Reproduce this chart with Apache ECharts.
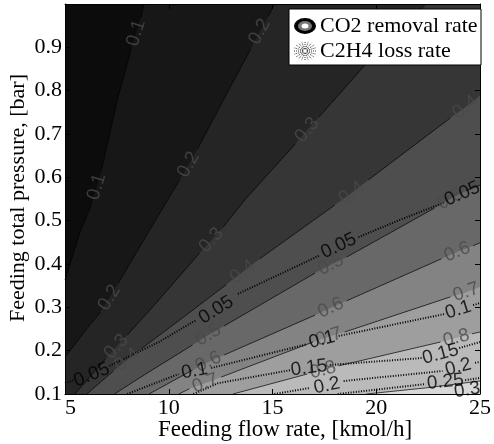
<!DOCTYPE html>
<html><head><meta charset="utf-8">
<script src="https://cdn.jsdelivr.net/npm/echarts@6/dist/echarts.min.js"></script>
<style>html,body{margin:0;padding:0;background:#fff}#c{width:494px;height:444px}</style>
</head><body><div id="c"></div>
<script>
// ---- data (x: feeding flow rate kmol/h, y: feeding total pressure bar; 3rd element 1 = inline label) ----
const xTicks = [5, 10, 15, 20, 25];
const yTicks = [0.1, 0.2, 0.3, 0.4, 0.5, 0.6, 0.7, 0.8, 0.9];
const co2Levels = [0.1, 0.2, 0.3, 0.4, 0.5, 0.6, 0.7, 0.8, 0.9];
const co2_01 = [[5,0.363],[5.714,0.472],[6.286,0.539],[6.524,0.578,1],[6.762,0.617],[7.524,0.779],[8.19,0.896],[8.429,0.933,1],[8.667,0.970],[8.81,1.0]];
const co2_02 = [[5,0.185],[6.19,0.259],[6.714,0.289],[7.143,0.322,1],[7.571,0.356],[9.048,0.476],[10.524,0.594],[10.952,0.629,1],[11.381,0.665],[12.857,0.799],[13.952,0.896],[14.381,0.936,1],[14.81,0.972],[15.095,1.0]];
const co2_03 = [[5.476,0.1],[6.952,0.181],[7.476,0.209,1],[8.0,0.236],[9.524,0.317],[11.476,0.425],[12.048,0.455,1],[12.619,0.485],[13.667,0.548],[16.095,0.677],[16.667,0.709,1],[17.238,0.739],[19.381,0.855],[22.381,1.0]];
const co2_04 = [[6.048,0.1],[7.333,0.153],[8.0,0.179,1],[8.667,0.204],[10.476,0.269],[12.762,0.352],[13.571,0.382,1],[14.381,0.412],[18.0,0.536],[18.81,0.564,1],[19.619,0.594],[23.571,0.737],[24.286,0.762,1],[25,0.788]];
const co2_05 = [[7.381,0.1],[9.048,0.151],[11.143,0.213],[11.905,0.236,1],[12.667,0.257],[17.048,0.379],[17.81,0.398,1],[18.571,0.416],[22.81,0.529],[23.571,0.55,1],[24.333,0.569],[25,0.582]];
const co2_06 = [[9.048,0.1],[11.143,0.155],[11.905,0.174,1],[12.667,0.19],[17.048,0.282],[17.81,0.299,1],[18.571,0.315],[23.143,0.412],[23.905,0.428,1],[24.667,0.442],[25,0.449]];
const co2_07 = [[10.476,0.1],[11.0,0.112],[11.762,0.125,1],[12.524,0.139],[16.952,0.22],[17.714,0.232,1],[18.476,0.243],[23.571,0.324],[24.333,0.335,1],[25,0.347]];
const co2_08 = [[13.095,0.1],[16.667,0.146],[17.429,0.155,1],[18.19,0.165],[23.095,0.22],[23.857,0.229,1],[24.619,0.239],[25,0.243]];
const co2_09 = [[19.524,0.1],[22.381,0.114],[25,0.13]];
const c2h4Levels = [0.05, 0.1, 0.15, 0.2, 0.25, 0.3];
const c2h4_005 = [[5,0.125],[5.429,0.132],[6.286,0.144,1],[7.143,0.165],[9.524,0.22],[11.333,0.271],[12.286,0.294,1],[13.333,0.331],[17.238,0.419],[18.19,0.442,1],[19.143,0.462],[21.143,0.502],[23.238,0.541],[24.143,0.562,1],[25,0.578]];
const c2h4_010 = [[8.0,0.1],[10.476,0.146],[11.238,0.153,1],[12.048,0.16],[16.667,0.215],[17.381,0.225,1],[18.19,0.234],[23.333,0.285],[23.952,0.294,1],[24.667,0.305],[25,0.31]];
const c2h4_015 = [[11.19,0.1],[12.381,0.125],[15.857,0.155],[16.762,0.16,1],[17.762,0.167],[22.19,0.183],[23.095,0.192,1],[24.0,0.206],[25,0.22]];
const c2h4_020 = [[15.095,0.1],[16.81,0.114],[17.619,0.119,1],[18.429,0.13],[23.19,0.153],[23.952,0.162,1],[24.762,0.172],[25,0.174]];
const c2h4_025 = [[18.143,0.1],[22.381,0.123],[23.333,0.128,1],[24.286,0.132],[25,0.137]];
const c2h4_030 = [[23.095,0.1],[24.381,0.109,1],[25,0.114]];
const legendNames = ['CO2 removal rate', 'C2H4 loss rate'];

// ---- styles ----
const bandColors = ['#0c0c0c','#171717','#252525','#363636','#4e4e4e','#686868','#838383','#9e9e9e','#bababa','#d8d8d8'];
const co2Sets = [co2_01,co2_02,co2_03,co2_04,co2_05,co2_06,co2_07,co2_08,co2_09];
const c2h4Sets = [c2h4_005,c2h4_010,c2h4_015,c2h4_020,c2h4_025,c2h4_030];
const X0 = xTicks[0], X1 = xTicks[xTicks.length-1], Y0 = 0.1, Y1 = 1.0;

function fillData(pts){
  const d = pts.map(p => [p[0], p[1]]);
  if (d[0][0] > X0) d.unshift([X0, Y0]);
  if (d[d.length-1][0] < X1) d.push([X1, Y1]);
  return d;
}
function strokeData(pts){ return pts.map(p => p[2] ? [p[0], '-'] : [p[0], p[1]]); }

const serif = 'Liberation Serif';
const axisCommon = (pos, showLabel) => ({
  type: 'value', position: pos, z: 10,
  axisLine: {show: true, onZero: false, lineStyle: {color: '#000', width: 1}},
  axisTick: {show: true, inside: true, length: 5, lineStyle: {color: '#000', width: 1}},
  splitLine: {show: false},
  axisLabel: {show: showLabel, margin: 3, fontFamily: serif, fontSize: 22, color: '#000'}
});

const series = [];
for (let i = co2Sets.length - 1; i >= 0; i--) {
  series.push({type: 'line', name: legendNames[0], data: fillData(co2Sets[i]), symbol: 'none', silent: true,
    lineStyle: {opacity: 0, width: 0}, areaStyle: {color: bandColors[i], opacity: 1, origin: 'end'}, z: 1});
}
co2Sets.forEach(s => series.push({type: 'line', data: strokeData(s), symbol: 'none', silent: true,
  lineStyle: {color: '#000', width: 0.7}, z: 2}));
c2h4Sets.forEach(s => series.push({type: 'line', name: legendNames[1], data: strokeData(s), symbol: 'none', silent: true,
  lineStyle: {color: '#000', width: 2, type: [1, 1.6]}, z: 3}));

function starburst(cx, cy){
  const els = [];
  for (let k = 0; k < 20; k++) {
    const a = k * Math.PI * 2 / 20;
    els.push({type: 'line', shape: {x1: cx + 2*Math.cos(a), y1: cy + 2*Math.sin(a), x2: cx + 11*Math.cos(a), y2: cy + 10*Math.sin(a)},
      style: {stroke: '#000', lineWidth: 0.8, lineDash: [1, 1]}, z: 21});
  }
  return els;
}

const option = {
  animation: false,
  backgroundColor: '#fff',
  grid: {left: 65, right: 9, top: 4, bottom: 50, show: true, backgroundColor: bandColors[9], borderWidth: 0},
  xAxis: [
    Object.assign(axisCommon('bottom', true), {min: X0, max: X1, interval: 5,
      axisLabel: {show: true, margin: 3, fontFamily: serif, fontSize: 22, color: '#000', alignMinLabel: 'left'}}),
    Object.assign(axisCommon('top', false), {min: X0, max: X1, interval: 5})
  ],
  yAxis: [
    Object.assign(axisCommon('left', true), {min: Y0, max: Y1, interval: 0.1,
      axisLabel: {show: true, margin: 3, fontFamily: serif, fontSize: 22, color: '#000',
        formatter: v => (v > 0.95 ? '' : v.toFixed(1))}}),
    Object.assign(axisCommon('right', false), {min: Y0, max: Y1, interval: 0.1})
  ],
  series: series,
  graphic: [
    {type: 'text', x: 285, y: 430, style: {text: 'Feeding flow rate, [kmol/h]', font: '23px "Liberation Serif"', fill: '#000', textAlign: 'center', textVerticalAlign: 'middle'}},
    {type: 'text', x: 18, y: 198, rotation: Math.PI / 2, style: {text: 'Feeding total pressure, [bar]', font: '22px "Liberation Serif"', fill: '#000', textAlign: 'center', textVerticalAlign: 'middle'}},
    {type: 'rect', shape: {x: 289, y: 9, width: 192, height: 56}, style: {fill: '#fff', stroke: '#000', lineWidth: 1}, z: 20},
    {type: 'circle', x: 305, y: 26, scaleY: 0.72, shape: {cx: 0, cy: 0, r: 11}, style: {fill: '#000'}, z: 21},
    {type: 'circle', x: 305, y: 26, scaleY: 0.72, shape: {cx: 0, cy: 0, r: 7}, style: {fill: '#777'}, z: 22},
    {type: 'circle', x: 305, y: 26, scaleY: 0.72, shape: {cx: 0, cy: 0, r: 3.5}, style: {fill: '#fff'}, z: 23},
    ...starburst(305, 51),
    {type: 'text', x: 320, y: 26, style: {text: legendNames[0], font: '22px "Liberation Serif"', fill: '#000', textVerticalAlign: 'middle'}, z: 21},
    {type: 'text', x: 320, y: 51, style: {text: legendNames[1], font: '22px "Liberation Serif"', fill: '#000', textVerticalAlign: 'middle'}, z: 21}
  ]
};

const chart = echarts.init(document.getElementById('c'));
chart.setOption(option);

function labelItems(sets, levels, fmt){
  const items = [];
  sets.forEach((pts, li) => {
    pts.forEach((p, k) => {
      if (!p[2]) return;
      const a = chart.convertToPixel({gridIndex: 0}, [pts[k-1][0], pts[k-1][1]]);
      const b = chart.convertToPixel({gridIndex: 0}, [pts[k+1][0], pts[k+1][1]]);
      const ang = Math.atan2(a[1] - b[1], b[0] - a[0]) * 180 / Math.PI;
      items.push({value: [p[0], p[1]], label: {rotate: ang, formatter: fmt(levels[li])}});
    });
  });
  return items;
}
const labelSeries = (data, color) => ({type: 'scatter', data: data, symbolSize: 0.1, silent: true, z: 5,
  itemStyle: {color: 'transparent'},
  label: {show: true, position: 'inside', color: color, fontFamily: 'Liberation Sans', fontSize: 19}});
series.push(labelSeries(labelItems(co2Sets, co2Levels, v => v.toFixed(1)), '#4a4a4a'));
series.push(labelSeries(labelItems(c2h4Sets, c2h4Levels, v => String(v)), '#000'));
chart.setOption({series: series});
</script></body></html>
